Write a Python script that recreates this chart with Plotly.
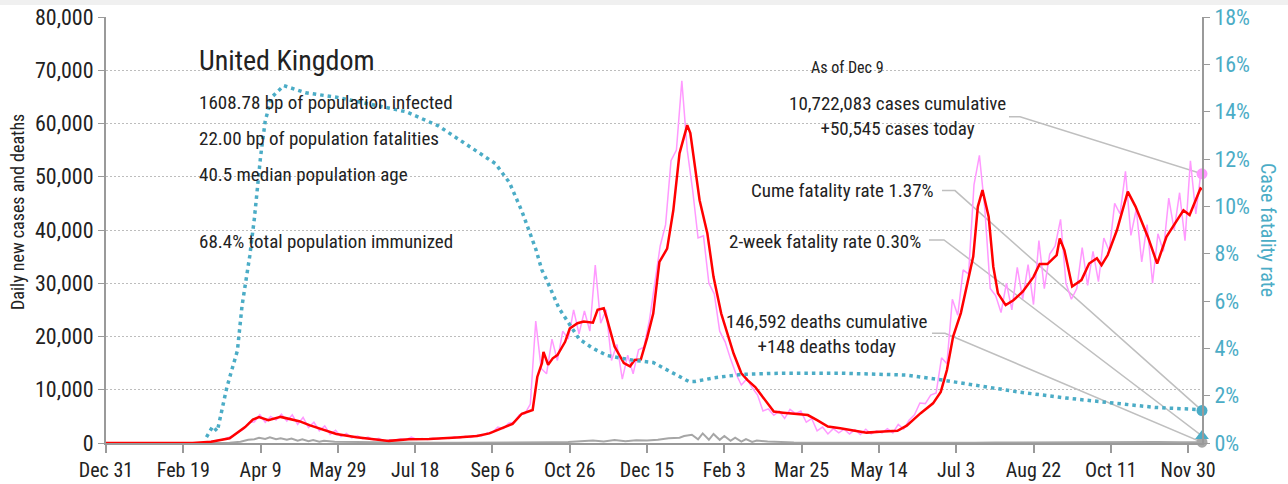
import pandas as pd
import plotly.graph_objects as go

# ---- data -------------------------------------------------------------
# daily new cases, two readings per week (Sunday, Wednesday) from 2020-03-01
daily_cases = [
    50, 150, 250, 450, 600, 900, 1300, 2000, 2600, 3800,
    4000, 5300, 3900, 5000, 4300, 5400, 4100, 5300, 3500, 4800,
    2900, 3900, 2300, 3200, 1600, 2400, 1200, 1800, 950, 1350,
    800, 1100, 600, 900, 300, 600, 500, 800, 600, 1100,
    650, 850, 650, 900, 750, 1000, 850, 1150, 950, 1250,
    1050, 1450, 1300, 1900, 2000, 3000, 2700, 3700, 3900, 5300,
    5500, 7300, 22900, 14000, 13000, 19500, 15500, 21000, 19500, 25000,
    20500, 24800, 21000, 33400, 22500, 25000, 15500, 18500, 12000, 16500,
    13000, 17500, 18000, 23000, 30000, 37000, 41000, 53000, 55000, 68000,
    55000, 47500, 38500, 38900, 30000, 28000, 21000, 19000, 15800, 13000,
    10900, 12000, 10400, 9000, 6000, 6400, 5200, 6000, 4600, 6300,
    5500, 6000, 3900, 4600, 2300, 3000, 1700, 2700, 1900, 2600,
    1700, 2500, 1600, 2600, 1700, 2300, 1900, 2700, 1900, 3500,
    2600, 4300, 5300, 7500, 7400, 9000, 9400, 16000, 14900, 27000,
    24000, 32500, 31700, 48500, 54000, 44000, 29000, 27700, 24500, 30000,
    25000, 33000, 27000, 33500, 26000, 38000, 29000, 35500, 37000, 42000,
    30000, 27000, 29000, 36700, 29600, 36000, 30300, 38500, 36000, 45000,
    43000, 51000, 39000, 43900, 34000, 41000, 30000, 39300, 36000, 46000,
    40000, 47000, 38000, 53000, 43000, 51300,
]
last_date = "2021-12-09"
cases_today = 50545
deaths_today = 148
cume_cfr = 1.37
two_week_cfr = 0.30

avg_dates = [
    "2019-12-31", "2020-02-25", "2020-03-08", "2020-03-20", "2020-03-30", "2020-04-04",
    "2020-04-08", "2020-04-14", "2020-04-22", "2020-05-04", "2020-05-11", "2020-05-19",
    "2020-05-28", "2020-06-10", "2020-06-20", "2020-07-01", "2020-07-14", "2020-07-27",
    "2020-08-14", "2020-08-27", "2020-09-04", "2020-09-12", "2020-09-19", "2020-09-25",
    "2020-10-02", "2020-10-05", "2020-10-08", "2020-10-09", "2020-10-12", "2020-10-15",
    "2020-10-18", "2020-10-23", "2020-10-26", "2020-10-31", "2020-11-04", "2020-11-10",
    "2020-11-13", "2020-11-17", "2020-11-19", "2020-11-24", "2020-11-30", "2020-12-04",
    "2020-12-07", "2020-12-11", "2020-12-15", "2020-12-19", "2020-12-23", "2020-12-28",
    "2021-01-01", "2021-01-05", "2021-01-10", "2021-01-12", "2021-01-15", "2021-01-18",
    "2021-01-23", "2021-01-27", "2021-02-01", "2021-02-05", "2021-02-09", "2021-02-14",
    "2021-02-18", "2021-02-23", "2021-03-03", "2021-03-07", "2021-03-13", "2021-03-22",
    "2021-03-29", "2021-04-04", "2021-04-11", "2021-04-19", "2021-04-30", "2021-05-06",
    "2021-05-17", "2021-05-26", "2021-06-01", "2021-06-10", "2021-06-18", "2021-06-23",
    "2021-06-27", "2021-07-01", "2021-07-06", "2021-07-10", "2021-07-14", "2021-07-17",
    "2021-07-20", "2021-07-24", "2021-07-27", "2021-07-30", "2021-08-04", "2021-08-09",
    "2021-08-15", "2021-08-22", "2021-08-26", "2021-08-31", "2021-09-06", "2021-09-08",
    "2021-09-11", "2021-09-16", "2021-09-22", "2021-09-27", "2021-10-02", "2021-10-05",
    "2021-10-09", "2021-10-15", "2021-10-22", "2021-10-27", "2021-11-01", "2021-11-04",
    "2021-11-10", "2021-11-16", "2021-11-23", "2021-11-27", "2021-12-01", "2021-12-04",
    "2021-12-08", "2021-12-09",
]
avg_cases = [
    0, 0, 250, 900, 3000, 4400,
    4850, 4300, 4900, 4100, 3300, 2600,
    1700, 1100, 800, 400, 700, 750,
    1050, 1300, 1800, 2800, 3600, 5500,
    6200, 12400, 15000, 17100, 14700, 15900,
    16500, 19000, 21500, 22500, 22800, 22600,
    25000, 25300, 23400, 18100, 15000, 14400,
    15600, 15700, 19700, 24300, 34000, 36500,
    43700, 54400, 59700, 58200, 51900, 45600,
    39400, 31200, 24300, 20600, 16800, 13100,
    11800, 10500, 7400, 5900, 5700, 5450,
    5250, 4300, 3100, 2750, 2300, 1950,
    2150, 2300, 3250, 5600, 7450, 9600,
    13700, 20000, 24400, 29400, 35000, 44400,
    47500, 42500, 33100, 28100, 25900, 26800,
    28400, 31200, 33600, 33600, 35300, 38400,
    36200, 29400, 30600, 33700, 34700, 33400,
    35300, 40000, 47200, 44400, 40900, 38700,
    33700, 38700, 41900, 43700, 42800, 45000,
    47800, 47600,
]

death_dates = [
    "2019-12-31", "2020-03-10", "2020-03-20", "2020-03-27", "2020-04-01", "2020-04-05",
    "2020-04-08", "2020-04-12", "2020-04-15", "2020-04-19", "2020-04-22", "2020-04-26",
    "2020-04-29", "2020-05-03", "2020-05-06", "2020-05-10", "2020-05-13", "2020-05-17",
    "2020-05-20", "2020-05-27", "2020-06-03", "2020-06-10", "2020-06-20", "2020-07-01",
    "2020-07-20", "2020-08-15", "2020-09-15", "2020-10-01", "2020-10-15", "2020-10-25",
    "2020-11-01", "2020-11-10", "2020-11-17", "2020-11-24", "2020-12-01", "2020-12-08",
    "2020-12-15", "2020-12-22", "2020-12-29", "2021-01-05", "2021-01-08", "2021-01-13",
    "2021-01-17", "2021-01-20", "2021-01-24", "2021-01-27", "2021-01-31", "2021-02-03",
    "2021-02-07", "2021-02-10", "2021-02-14", "2021-02-17", "2021-02-21", "2021-02-24",
    "2021-03-03", "2021-03-10", "2021-03-20", "2021-04-01", "2021-04-20", "2021-05-15",
    "2021-06-15", "2021-07-01", "2021-07-15", "2021-07-28", "2021-08-10", "2021-08-25",
    "2021-09-10", "2021-09-25", "2021-10-10", "2021-10-25", "2021-11-10", "2021-11-25",
    "2021-12-09",
]
daily_deaths = [
    0, 0, 40, 250, 600, 700,
    1000, 750, 1050, 700, 900, 600,
    850, 450, 700, 350, 550, 250,
    400, 250, 220, 150, 100, 60,
    50, 30, 30, 60, 130, 200,
    250, 450, 300, 550, 350, 500,
    450, 600, 900, 1000, 1300, 1550,
    700, 1800, 600, 1700, 600, 1300,
    400, 1000, 250, 750, 200, 450,
    300, 180, 100, 50, 30, 10,
    15, 20, 50, 100, 120, 130,
    150, 140, 130, 160, 180, 140,
    148,
]

cfr_dates = [
    "2020-03-05", "2020-03-09", "2020-03-12", "2020-03-15", "2020-03-18", "2020-03-21",
    "2020-03-25", "2020-03-28", "2020-04-02", "2020-04-05", "2020-04-07", "2020-04-09",
    "2020-04-12", "2020-04-16", "2020-04-24", "2020-05-08", "2020-05-29", "2020-06-19",
    "2020-07-12", "2020-08-02", "2020-08-23", "2020-09-08", "2020-09-17", "2020-09-25",
    "2020-10-04", "2020-10-08", "2020-10-11", "2020-10-15", "2020-10-19", "2020-10-26",
    "2020-11-01", "2020-11-10", "2020-11-19", "2020-11-27", "2020-12-06", "2020-12-19",
    "2021-01-01", "2021-01-11", "2021-01-15", "2021-01-27", "2021-02-14", "2021-03-12",
    "2021-04-19", "2021-06-01", "2021-06-24", "2021-07-15", "2021-08-13", "2021-09-12",
    "2021-10-11", "2021-11-09", "2021-12-05", "2021-12-09",
]
cfr_pct = [
    0.25, 0.7, 0.5, 1.4, 2.3, 3.0,
    3.9, 5.8, 7.9, 9.5, 11.0, 12.1,
    13.6, 14.6, 15.1, 14.8, 14.6, 14.3,
    14.0, 13.4, 12.5, 11.8, 11.0, 9.8,
    8.2, 7.3, 6.9, 6.3, 5.7, 5.0,
    4.4, 4.0, 3.7, 3.6, 3.5, 3.4,
    2.95, 2.6, 2.6, 2.75, 2.9, 2.95,
    2.95, 2.87, 2.66, 2.45, 2.15, 1.9,
    1.7, 1.5, 1.42, 1.37,
]

tick_dates = pd.date_range("2019-12-31", periods=15, freq="50D")
tick_labels = ["Dec 31", "Feb 19", "Apr 9", "May 29", "Jul 18", "Sep 6", "Oct 26",
               "Dec 15", "Feb 3", "Mar 25", "May 14", "Jul 3", "Aug 22", "Oct 11", "Nov 30"]

# ---- styling ----------------------------------------------------------
FONT = "Liberation Sans Narrow, Roboto Condensed, DejaVu Sans Condensed, Arial Narrow, sans-serif"
TEAL = "#4BACC6"
PINK = "#FF99FF"
RED = "#FF0000"
GREY = "#A6A6A6"
LEADER = "#BFBFBF"
TEXT = "#222222"
AXIS = "#9A9A9A"

W, H = 1288, 484
ML, MR, MT, MB = 106, 86, 17, 41
PW, PH = W - ML - MR, H - MT - MB


def px(x):
    return (x - ML) / PW


def py(y):
    return (H - MB - y) / PH


daily_dates = pd.date_range("2020-03-01", periods=len(daily_cases), freq="84h")
pink_x = [pd.Timestamp("2019-12-31"), pd.Timestamp("2020-02-20")] + list(daily_dates) + [pd.Timestamp(last_date)]
pink_y = [0, 0] + daily_cases + [cases_today]

fig = go.Figure()
fig.add_trace(go.Scatter(x=pink_x, y=pink_y, mode="lines",
                         line=dict(color=PINK, width=1.5), hoverinfo="skip"))
fig.add_trace(go.Scatter(x=death_dates, y=daily_deaths, mode="lines",
                         line=dict(color=GREY, width=2), hoverinfo="skip"))
fig.add_trace(go.Scatter(x=avg_dates, y=avg_cases, mode="lines",
                         line=dict(color=RED, width=2.5), hoverinfo="skip"))
fig.add_trace(go.Scatter(x=cfr_dates, y=cfr_pct, mode="lines", yaxis="y2",
                         line=dict(color=TEAL, width=3.5, dash="3.5px,4px"), hoverinfo="skip"))

# end-of-series markers
fig.add_trace(go.Scatter(x=[last_date], y=[cases_today], mode="markers", cliponaxis=False,
                         marker=dict(color=PINK, size=11), hoverinfo="skip"))
fig.add_trace(go.Scatter(x=[last_date], y=[deaths_today], mode="markers", cliponaxis=False,
                         marker=dict(color=GREY, size=11), hoverinfo="skip"))
fig.add_trace(go.Scatter(x=[last_date], y=[cume_cfr], mode="markers", yaxis="y2", cliponaxis=False,
                         marker=dict(color=TEAL, size=11), hoverinfo="skip"))
fig.add_trace(go.Scatter(x=[last_date], y=[two_week_cfr], mode="markers", yaxis="y2", cliponaxis=False,
                         marker=dict(color=TEAL, size=12, symbol="triangle-up"), hoverinfo="skip"))

# leader lines from the call-out texts to the end markers (pixel offsets from the marker)
leaders = [
    ("y", cases_today, "M0,0 L-182,57 L-193,57"),
    ("y2", cume_cfr, "M0,0 L-247,220 L-260,220"),
    ("y2", two_week_cfr, "M0,0 L-258,196 L-273,196"),
    ("y", deaths_today, "M0,0 L-257,109 L-270,109"),
]
for yref, val, path in leaders:
    fig.add_shape(type="path", path=path, xref="x", yref=yref,
                  xsizemode="pixel", ysizemode="pixel",
                  xanchor=last_date, yanchor=val,
                  line=dict(color=LEADER, width=1.5), layer="below")

# light band across the very top
fig.add_shape(type="rect", xref="paper", yref="paper",
              x0=px(0), x1=px(W), y0=py(5), y1=py(0),
              fillcolor="#F0F0F0", line=dict(width=0), layer="below")


def note(text, x, y, size=19, anchor="left", color=TEXT, angle=0):
    fig.add_annotation(text=text, xref="paper", yref="paper", x=px(x), y=py(y),
                       xanchor=anchor, yanchor="middle", showarrow=False, textangle=angle,
                       font=dict(family=FONT, size=size, color=color), align="center")


note("United Kingdom", 197, 60, size=28)
note("1608.78 bp of population infected", 197, 102)
note("22.00 bp of population fatalities", 197, 138)
note("40.5 median population age", 197, 174)
note("68.4% total population immunized", 197, 242)
note("As of Dec 9", 847, 68, size=16, anchor="center")
note(f"10,722,083 cases cumulative<br>+{cases_today:,} cases today", 897, 116, anchor="center")
note(f"Cume fatality rate {cume_cfr:.2f}%", 936, 190, anchor="right")
note(f"2-week fatality rate {two_week_cfr:.2f}%", 923, 241, anchor="right")
note(f"146,592 deaths cumulative<br>+{deaths_today} deaths today", 827, 334, anchor="center")

# axis titles
note("Daily new cases and deaths", 18, 212, size=18, anchor="center", angle=-90)
note("Case fatality rate", 1268, 230, size=20, anchor="center", color=TEAL, angle=90)

fig.update_layout(
    width=W, height=H,
    margin=dict(l=ML, r=MR, t=MT, b=MB),
    paper_bgcolor="white", plot_bgcolor="white",
    showlegend=False,
    font=dict(family=FONT, size=19, color=TEXT),
    xaxis=dict(
        type="date", range=["2019-12-31", last_date], automargin=False,
        tickvals=tick_dates, ticktext=tick_labels,
        showgrid=False, showline=True, linecolor=AXIS, linewidth=2,
        ticks="outside", ticklen=8, tickcolor=AXIS, tickwidth=1.5,
        tickfont=dict(size=20, color=TEXT), zeroline=False,
    ),
    yaxis=dict(
        range=[0, 80000], dtick=10000, tickformat=",", automargin=False,
        showgrid=True, gridcolor="#BDBDBD", griddash="2px,2px", gridwidth=1,
        showline=True, linecolor=AXIS, linewidth=2,
        ticks="outside", ticklen=6, tickcolor=AXIS,
        tickfont=dict(size=22, color=TEXT), zeroline=False,
    ),
    yaxis2=dict(
        range=[0, 18], dtick=2, ticksuffix="%", overlaying="y", side="right", automargin=False,
        showgrid=False, showline=True, linecolor=AXIS, linewidth=2,
        ticks="outside", ticklen=6, tickcolor=AXIS,
        tickfont=dict(size=22, color=TEAL), zeroline=False,
    ),
)

fig.write_html("out.html")
